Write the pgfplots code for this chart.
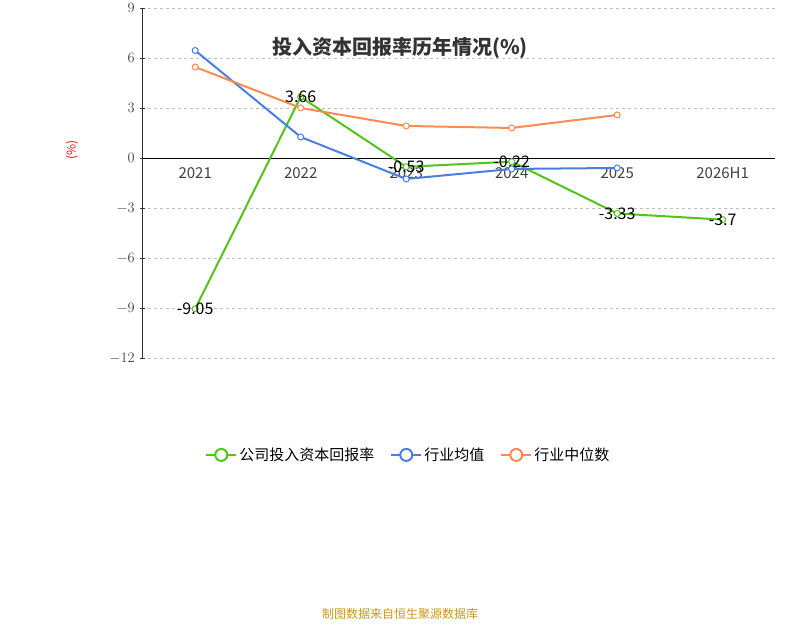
\documentclass[border=0pt]{standalone}
\usepackage{pgfplots}
\pgfplotsset{compat=1.18}
\usepackage{fontspec}
\setmainfont{Noto Sans CJK SC}
\definecolor{cg}{HTML}{52C41A}
\definecolor{cb}{HTML}{4A7FE0}
\definecolor{co}{HTML}{FF8A50}
\begin{document}
\begin{tikzpicture}[x=1pt,y=1pt]
\path (0,0) rectangle (800,600);
\node[font=\bfseries\fontsize{20}{24}\selectfont, text=black!80] at (400,577) {投入资本回报率历年情况(\%)};
\node[rotate=90, text=red, font=\fontsize{12}{14}\selectfont] at (72,475) {(\%)};
\node[text={rgb,255:red,200;green,150;blue,30}, font=\fontsize{12}{14}\selectfont] at (400,11) {制图数据来自恒生聚源数据库};
\begin{axis}[at={(135,160)}, anchor=south west, width=633, height=350, scale only axis,
  xmin=-0.5, xmax=5.5, ymin=-12, ymax=9, ytick={-12,-9,...,9},
  xtick={0,...,5}, xticklabels={2021,2022,2023,2024,2025,2026H1},
  axis x line=middle, axis y line=left, axis line style={-, black!80},
  x axis line style={black}, extra x ticks={-0.5,0.5,1.5,2.5,3.5,4.5,5.5}, extra x tick labels={},
  extra x tick style={tick style={black}, grid=none, major tick length=6pt},
  xtick style={draw=none},
  xticklabel style={yshift=0pt}, xticklabel shift=0pt,
  x tick label style={at={(axis cs:\tick,-12)}, anchor=north, yshift=-4pt},
  ymajorgrids, grid style={dashed, black!25},
  tick label style={font=\fontsize{15}{18}\selectfont, text=black!75},
  ytick style={black!80}, yticklabel style={xshift=-2pt},
  legend style={at={(0.42,-0.277)}, anchor=center, draw=none, legend columns=3, font=\fontsize{15}{18}\selectfont, /tikz/every even column/.append style={column sep=14pt}},
  legend image code/.code={\draw[#1] (0,0)--(30pt,0); \draw[#1, fill=white] (15pt,0) circle (6pt);},
  clip=false]
\addplot[cg, line width=2pt, mark=*, mark options={fill=white, line width=1pt}, mark size=3pt,
  nodes near coords, point meta=explicit symbolic, every node near coord/.append style={font=\fontsize{16}{18}\selectfont, text=black, anchor=center}]
 coordinates {(0,-9.05)[-9.05] (1,3.66)[3.66] (2,-0.53)[-0.53] (3,-0.22)[-0.22] (4,-3.33)[-3.33] (5,-3.7)[-3.7]};
\addlegendentry{公司投入资本回报率}
\addplot[cb, line width=2pt, mark=*, mark options={fill=white, line width=1pt}, mark size=3pt]
 coordinates {(0,6.45) (1,1.26) (2,-1.26) (3,-0.66) (4,-0.6)};
\addlegendentry{行业均值}
\addplot[co, line width=2pt, mark=*, mark options={fill=white, line width=1pt}, mark size=3pt]
 coordinates {(0,5.46) (1,3.0) (2,1.92) (3,1.8) (4,2.58)};
\addlegendentry{行业中位数}
\end{axis}
\end{tikzpicture}
\end{document}
